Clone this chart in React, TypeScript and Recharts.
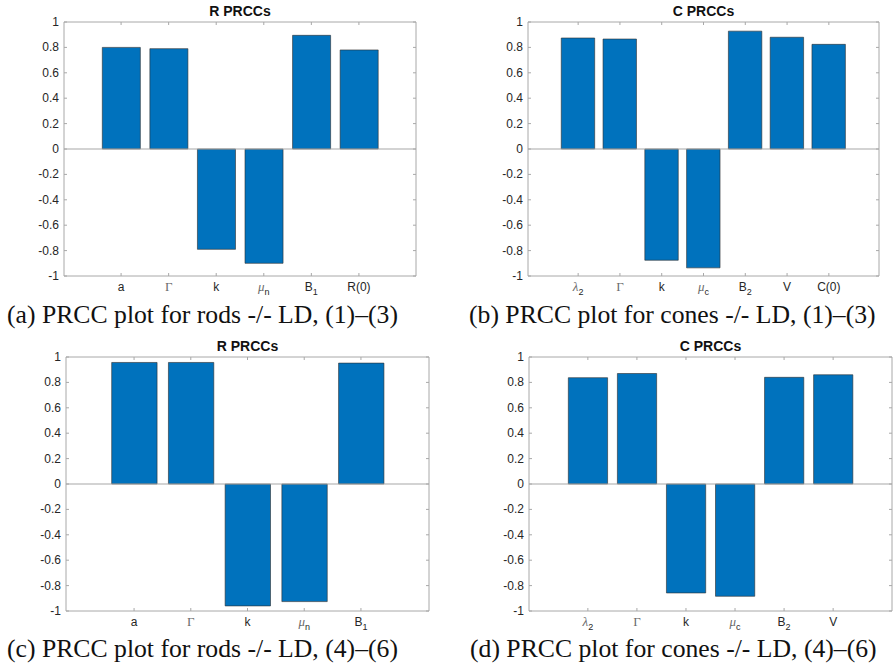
import React from "react";
import {
  BarChart,
  Bar,
  XAxis,
  YAxis,
  ReferenceLine,
  ReferenceArea,
} from "recharts";

// parameter names ("_" marks a subscript)
const rodCats13 = ["a", "Γ", "k", "μ_n", "B_1", "R(0)"];
const rodVals13 = [0.8, 0.79, -0.79, -0.9, 0.895, 0.78];

const coneCats13 = ["λ_2", "Γ", "k", "μ_c", "B_2", "V", "C(0)"];
const coneVals13 = [0.874, 0.866, -0.876, -0.936, 0.928, 0.88, 0.824];

const rodCats46 = ["a", "Γ", "k", "μ_n", "B_1"];
const rodVals46 = [0.957, 0.957, -0.96, -0.926, 0.952];

const coneCats46 = ["λ_2", "Γ", "k", "μ_c", "B_2", "V"];
const coneVals46 = [0.837, 0.87, -0.858, -0.884, 0.84, 0.86];

const yTicks = [-1, -0.8, -0.6, -0.4, -0.2, 0, 0.2, 0.4, 0.6, 0.8, 1];

const BLUE = "#0072BD";
const AXIS = "#a8a8a8";
const TEXT = "#262626";
const SANS = "'Liberation Sans', Arial, sans-serif";
const SERIF = "'Liberation Serif', 'Times New Roman', serif";

const PAD_L = 60;
const PAD_T = 10;

type Box = { left: number; top: number; right: number; bottom: number };

function CatLabel({ text, x, y }: { text: string; x: number; y: number }) {
  const [base, sub] = text.split("_");
  const greek = /[ΓλμΛ]/.test(base);
  return (
    <text
      x={x}
      y={y}
      textAnchor="middle"
      fill={greek ? "#6a6a6a" : TEXT}
      fontSize={greek ? 13 : 12}
      fontFamily={greek ? SERIF : SANS}
      fontStyle={base === "μ" || base === "λ" ? "italic" : "normal"}
    >
      <tspan>{base}</tspan>
      {sub && (
        <tspan dy={4} fontSize={9} fontFamily={SANS} fontStyle="normal" fill={TEXT}>
          {sub}
        </tspan>
      )}
    </text>
  );
}

function Panel({
  box,
  cats,
  vals,
  title,
}: {
  box: Box;
  cats: string[];
  vals: number[];
  title: string;
}) {
  const w = box.right - box.left;
  const h = box.bottom - box.top;
  const n = cats.length;
  const data = vals.map((v, i) => ({ x: i + 1, v }));
  const step = w / (n + 1.4);
  const plotL = PAD_L;
  const plotR = PAD_L + w;
  const plotT = PAD_T;
  const plotB = PAD_T + h;

  const YTick = (p: any) => {
    const y = p.y;
    return (
      <g>
        <line x1={plotL} x2={plotL + 3} y1={y} y2={y} stroke={AXIS} />
        <line x1={plotR} x2={plotR - 3} y1={y} y2={y} stroke={AXIS} />
        <text
          x={plotL - 5}
          y={y}
          textAnchor="end"
          dominantBaseline="central"
          fontSize={12}
          fontFamily={SANS}
          fill={TEXT}
        >
          {String(Math.round(p.payload.value * 10) / 10)}
        </text>
      </g>
    );
  };

  const XTick = (p: any) => {
    const x = p.x;
    return (
      <g>
        <line x1={x} x2={x} y1={plotB} y2={plotB - 3} stroke={AXIS} />
        <line x1={x} x2={x} y1={plotT} y2={plotT + 3} stroke={AXIS} />
        <CatLabel text={cats[p.payload.value - 1]} x={x} y={plotB + 15} />
      </g>
    );
  };

  return (
    <>
      <div
        style={{
          position: "absolute",
          left: box.left,
          width: w,
          top: box.top - 18,
          textAlign: "center",
          fontFamily: SANS,
          fontWeight: "bold",
          fontSize: 14,
          lineHeight: "15px",
          color: "#111",
        }}
      >
        {title}
      </div>
      <div style={{ position: "absolute", left: box.left - PAD_L, top: box.top - PAD_T }}>
        <BarChart
          width={w + PAD_L + 10}
          height={h + PAD_T + 30}
          data={data}
          margin={{ top: PAD_T, right: 10, left: 10, bottom: 0 }}
        >
          <XAxis
            type="number"
            dataKey="x"
            domain={[-0.2, n + 1.2]}
            ticks={cats.map((_, i) => i + 1)}
            interval={0}
            axisLine={false}
            tickLine={false}
            height={30}
            tick={XTick}
          />
          <YAxis
            type="number"
            domain={[-1, 1]}
            ticks={yTicks}
            interval={0}
            axisLine={false}
            tickLine={false}
            width={50}
            tick={YTick}
          />
          <ReferenceArea
            x1={-0.2}
            x2={n + 1.2}
            y1={-1}
            y2={1}
            fill="none"
            stroke={AXIS}
            strokeWidth={1}
          />
          <Bar
            dataKey="v"
            fill={BLUE}
            stroke="#2e2e2e"
            strokeWidth={0.6}
            barSize={step * 0.8}
            isAnimationActive={false}
          />
          <ReferenceLine y={0} stroke={AXIS} strokeWidth={1.2} />
        </BarChart>
      </div>
    </>
  );
}

function Caption({ left, top, text }: { left: number; top: number; text: string }) {
  return (
    <div
      style={{
        position: "absolute",
        left,
        top,
        whiteSpace: "nowrap",
        fontFamily: SERIF,
        fontSize: 25.7,
        lineHeight: "26px",
        color: "#111",
      }}
    >
      {text}
    </div>
  );
}

export default function App() {
  return (
    <div
      style={{
        position: "absolute",
        left: 0,
        top: 0,
        width: 893,
        height: 669,
        background: "#fff",
        overflow: "hidden",
      }}
    >
      <Panel
        box={{ left: 64, top: 22, right: 416, bottom: 276 }}
        cats={rodCats13}
        vals={rodVals13}
        title="R PRCCs"
      />
      <Panel
        box={{ left: 528, top: 22, right: 879, bottom: 276 }}
        cats={coneCats13}
        vals={coneVals13}
        title="C PRCCs"
      />
      <Panel
        box={{ left: 66, top: 357, right: 429, bottom: 611 }}
        cats={rodCats46}
        vals={rodVals46}
        title="R PRCCs"
      />
      <Panel
        box={{ left: 529, top: 357, right: 892, bottom: 611 }}
        cats={coneCats46}
        vals={coneVals46}
        title="C PRCCs"
      />
      <Caption left={7} top={302} text="(a) PRCC plot for rods -/- LD, (1)–(3)" />
      <Caption left={469} top={302} text="(b) PRCC plot for cones -/- LD, (1)–(3)" />
      <Caption left={7} top={636} text="(c) PRCC plot for rods -/- LD, (4)–(6)" />
      <Caption left={470} top={636} text="(d) PRCC plot for cones -/- LD, (4)–(6)" />
    </div>
  );
}
